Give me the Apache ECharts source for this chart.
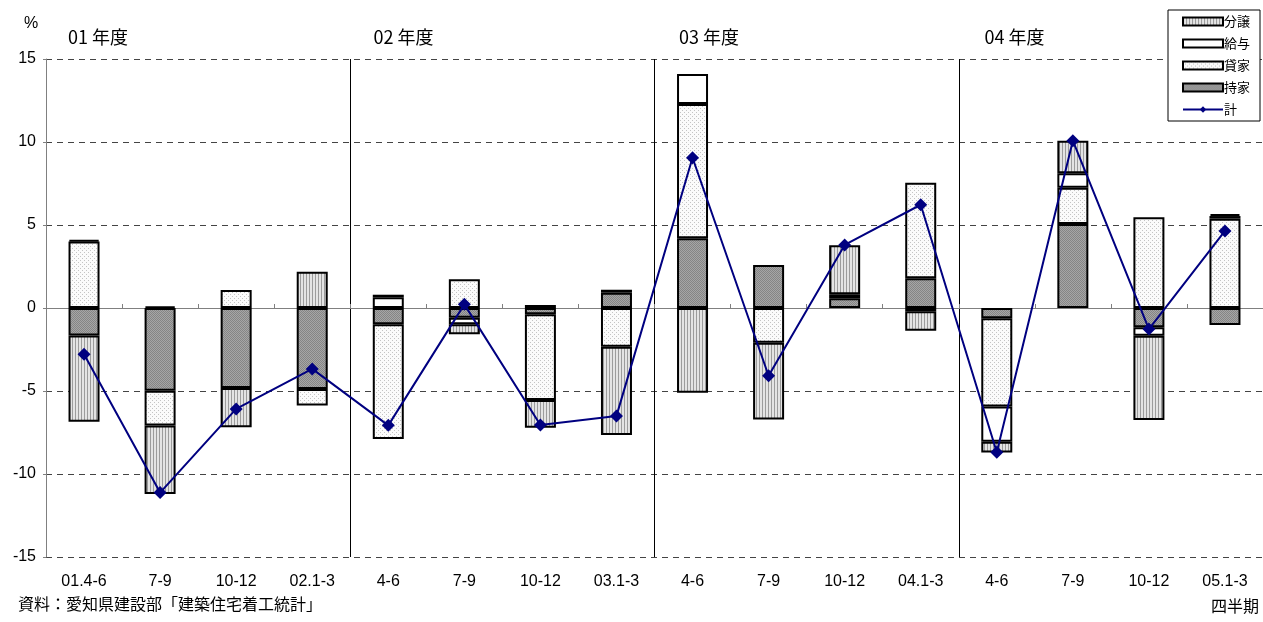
<!DOCTYPE html>
<html>
<head>
<meta charset="utf-8">
<script src="https://cdn.jsdelivr.net/npm/echarts@6/dist/echarts.min.js"></script>
<style>
  html, body { margin: 0; padding: 0; background: #fff; }
  #chart { width: 1263px; height: 622px; }
</style>
</head>
<body>
<div id="chart"></div>
<script>
// Quarterly categories (fiscal years 2001-2004)
const categories = ['01.4-6', '7-9', '10-12', '02.1-3', '4-6', '7-9', '10-12', '03.1-3',
                    '4-6', '7-9', '10-12', '04.1-3', '4-6', '7-9', '10-12', '05.1-3'];
// Contribution by dwelling type (percentage points)
const mochiie = [-1.65, -4.98, -4.82, -4.88, -0.98, -0.58, -0.38, 0.92, 4.2, 2.59, 0.58, 1.79, -0.62, 5.06, -1.16, -1.02];
const kashiya = [4.0, -2.1, 1.08, -1.0, -6.91, 1.73, -5.16, -2.33, 8.09, -2.09, '-', 5.76, -5.32, 2.19, 5.46, 5.38];
const kyuyo   = [0.1, 0.1, '-', '-', 0.65, -0.4, 0.18, 0.18, 1.8, '-', 0.25, -0.2, -2.11, 0.86, -0.51, 0.16];
const bunjo   = [-5.2, -4.13, -2.37, 2.19, 0.15, -0.6, -1.67, -5.32, -5.1, -4.62, 2.95, -1.17, -0.66, 1.97, -5.08, 0.12];
// Total change
const total   = [-2.79, -11.12, -6.08, -3.67, -7.07, 0.22, -7.05, -6.5, 9.05, -4.08, 3.8, 6.22, -8.69, 10.08, -1.27, 4.64];
// Y axis ticks
const yMin = -15, yMax = 15, yStep = 5;
const yearLabels = ['01 年度', '02 年度', '03 年度', '04 年度'];

// Small tiled canvases used as fill textures
function pattern(w, h, draw) {
  const c = document.createElement('canvas');
  c.width = w; c.height = h;
  const g = c.getContext('2d');
  draw(g);
  return { image: c, repeat: 'repeat' };
}
const stripeFill = pattern(3, 3, g => {
  g.fillStyle = '#e4e4e4'; g.fillRect(0, 0, 3, 3);
  g.fillStyle = '#9c9c9c'; g.fillRect(0, 0, 1, 3);
});
const dotFill = pattern(4, 4, g => {
  g.fillStyle = '#fbfbfb'; g.fillRect(0, 0, 4, 4);
  g.fillStyle = '#c4c4c4'; g.fillRect(0, 0, 1, 1); g.fillRect(2, 2, 1, 1);
});
const darkFill = pattern(2, 2, g => {
  g.fillStyle = '#a6a6a6'; g.fillRect(0, 0, 2, 2);
  g.fillStyle = '#858585'; g.fillRect(0, 0, 1, 1); g.fillRect(1, 1, 1, 1);
});

const font = "'Liberation Sans', Arial, 'Noto Sans CJK JP', sans-serif";
const jpFont = "'Noto Sans CJK JP', 'Liberation Sans', sans-serif";

const chart = echarts.init(document.getElementById('chart'), null, { renderer: 'canvas' });

function barSeries(name, data, fill) {
  return {
    name, type: 'bar', stack: 'total', data,
    barWidth: 31, xAxisIndex: 0,
    itemStyle: { color: fill, borderColor: '#000', borderWidth: 2 },
    emphasis: { disabled: true },
    z: 2
  };
}

const gridLineColors = [];
for (let v = yMin; v <= yMax; v += yStep) gridLineColors.push(v === 0 ? 'rgba(0,0,0,0)' : '#444');

chart.setOption({
  animation: false,
  backgroundColor: '#fff',
  grid: { left: 46, top: 59, width: 1222, height: 498, containLabel: false },
  legend: {
    orient: 'vertical',
    left: 1168, top: 10,
    data: [
      { name: '分譲', icon: 'rect' },
      { name: '給与', icon: 'rect' },
      { name: '貸家', icon: 'rect' },
      { name: '持家', icon: 'rect' },
      { name: '計' }
    ],
    itemWidth: 40, itemHeight: 8, itemGap: 9,
    padding: [5, 10, 5, 14],
    borderColor: '#000', borderWidth: 1,
    backgroundColor: '#fff',
    textStyle: { fontFamily: jpFont, fontSize: 13, color: '#000', padding: [0, 0, 0, -4] },
    selectedMode: false
  },
  xAxis: [
    {
      type: 'category', data: categories, position: 'bottom',
      axisLine: { show: false, onZero: false },
      axisTick: { show: false },
      axisLabel: { fontFamily: font, fontSize: 16, color: '#000', margin: 17, interval: 0 },
      splitLine: {
        show: true,
        interval: (i) => i === 4 || i === 8 || i === 12,
        lineStyle: { color: '#000', width: 1 }
      }
    },
    {
      type: 'category', data: categories, position: 'top',
      axisLine: { show: true, onZero: true, lineStyle: { color: '#808080', width: 1 } },
      axisTick: { show: true, inside: false, length: 4, lineStyle: { color: '#808080' } },
      axisLabel: { show: false },
      splitLine: { show: false }
    }
  ],
  yAxis: {
    type: 'value', min: yMin, max: yMax, interval: yStep,
    axisLine: { show: true, lineStyle: { color: '#808080', width: 1 } },
    axisTick: { show: true, length: 3, lineStyle: { color: '#808080' } },
    axisLabel: { fontFamily: font, fontSize: 16, color: '#000', margin: 10 },
    splitLine: { show: true, lineStyle: { color: gridLineColors, type: [6, 5], width: 1 } }
  },
  series: [
    barSeries('持家', mochiie, darkFill),
    barSeries('貸家', kashiya, dotFill),
    barSeries('給与', kyuyo, '#ffffff'),
    barSeries('分譲', bunjo, stripeFill),
    {
      name: '計', type: 'line', data: total, xAxisIndex: 0,
      symbol: 'diamond', symbolSize: 13,
      lineStyle: { color: '#000080', width: 2 },
      itemStyle: { color: '#000080' },
      emphasis: { disabled: true },
      z: 5
    }
  ],
  graphic: [
    { type: 'text', left: 24, top: 16, style: { text: '%', font: `16px ${font}`, fill: '#000' } },
    ...yearLabels.map((t, i) => ({
      type: 'text', left: 68 + i * 305.5, top: 28,
      style: { text: t, font: `18px ${jpFont}`, fill: '#000' }
    })),
    { type: 'text', left: 18, top: 596, style: { text: '資料：愛知県建設部「建築住宅着工統計」', font: `16px ${jpFont}`, fill: '#000' } },
    { type: 'text', right: 4, top: 598, style: { text: '四半期', font: `16px ${jpFont}`, fill: '#000' } }
  ]
});
</script>
</body>
</html>
